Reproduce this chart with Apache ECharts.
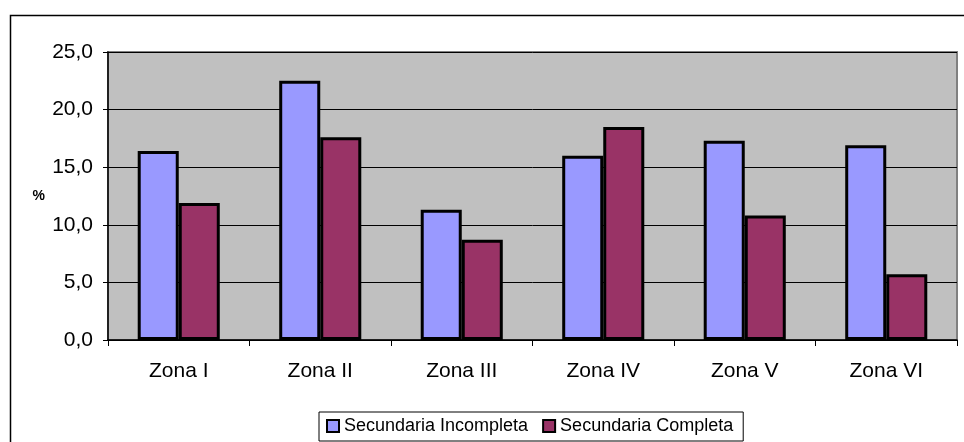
<!DOCTYPE html>
<html>
<head>
<meta charset="utf-8">
<script src="https://cdn.jsdelivr.net/npm/echarts@6/dist/echarts.min.js"></script>
<style>html,body{margin:0;padding:0;background:#fff;}#c{width:964px;height:442px;}</style>
</head>
<body>
<div id="c"></div>
<script>
const categories = ['Zona I', 'Zona II', 'Zona III', 'Zona IV', 'Zona V', 'Zona VI'];
const incompleta = [16.4, 22.5, 11.3, 16.0, 17.3, 16.9];
const completa = [11.9, 17.6, 8.7, 18.5, 10.8, 5.7];
const seriesNames = ['Secundaria Incompleta', 'Secundaria Completa'];
const yTicks = [0, 25, 5];

const FONT = "'Liberation Sans', Arial, sans-serif";
const chart = echarts.init(document.getElementById('c'), null, {renderer: 'canvas'});
chart.setOption({
  animation: false,
  backgroundColor: '#ffffff',
  textStyle: {fontFamily: FONT},
  graphic: [{
    type: 'rect', left: 8, top: 13, z: -1,
    shape: {width: 1000, height: 500},
    style: {fill: 'none', stroke: '#000', lineWidth: 1.5}
  }],
  grid: {
    left: 108, right: 7, top: 52, bottom: 102,
    show: true, backgroundColor: '#C0C0C0', borderColor: '#808080', borderWidth: 2
  },
  legend: {
    left: 319, top: 412,
    data: seriesNames,
    icon: 'rect', itemWidth: 12, itemHeight: 12, itemGap: 14,
    borderColor: '#000', borderWidth: 1, padding: [5, 10, 6, 7],
    textStyle: {fontFamily: FONT, fontSize: 18, color: '#000'},
    itemStyle: {borderColor: '#000', borderWidth: 2}
  },
  xAxis: {
    type: 'category', data: categories, boundaryGap: true,
    axisLine: {lineStyle: {color: '#000', width: 1.5}},
    axisTick: {show: true, length: 6, inside: false, lineStyle: {color: '#000'}},
    axisLabel: {fontFamily: FONT, fontSize: 21, color: '#000', margin: 21}
  },
  yAxis: {
    type: 'value', min: yTicks[0], max: yTicks[1], interval: yTicks[2],
    name: '%', nameLocation: 'middle', nameRotate: 0, nameGap: 63,
    nameTextStyle: {fontFamily: FONT, fontSize: 14, fontWeight: 'bold', color: '#000'},
    axisLine: {show: true, lineStyle: {color: '#000', width: 1.5}},
    axisTick: {show: true, length: 5, lineStyle: {color: '#000'}},
    splitLine: {show: true, lineStyle: {color: '#000', width: 1}},
    axisLabel: {fontFamily: FONT, fontSize: 21, color: '#000', margin: 15,
      formatter: v => v.toFixed(1).replace('.', ',')}
  },
  series: [
    {name: seriesNames[0], type: 'bar', data: incompleta, barGap: '0%', barCategoryGap: '42%',
     itemStyle: {color: '#9999FF', borderColor: '#000', borderWidth: 3}},
    {name: seriesNames[1], type: 'bar', data: completa, barGap: '0%', barCategoryGap: '42%',
     itemStyle: {color: '#993366', borderColor: '#000', borderWidth: 3}}
  ]
});
</script>
</body>
</html>
